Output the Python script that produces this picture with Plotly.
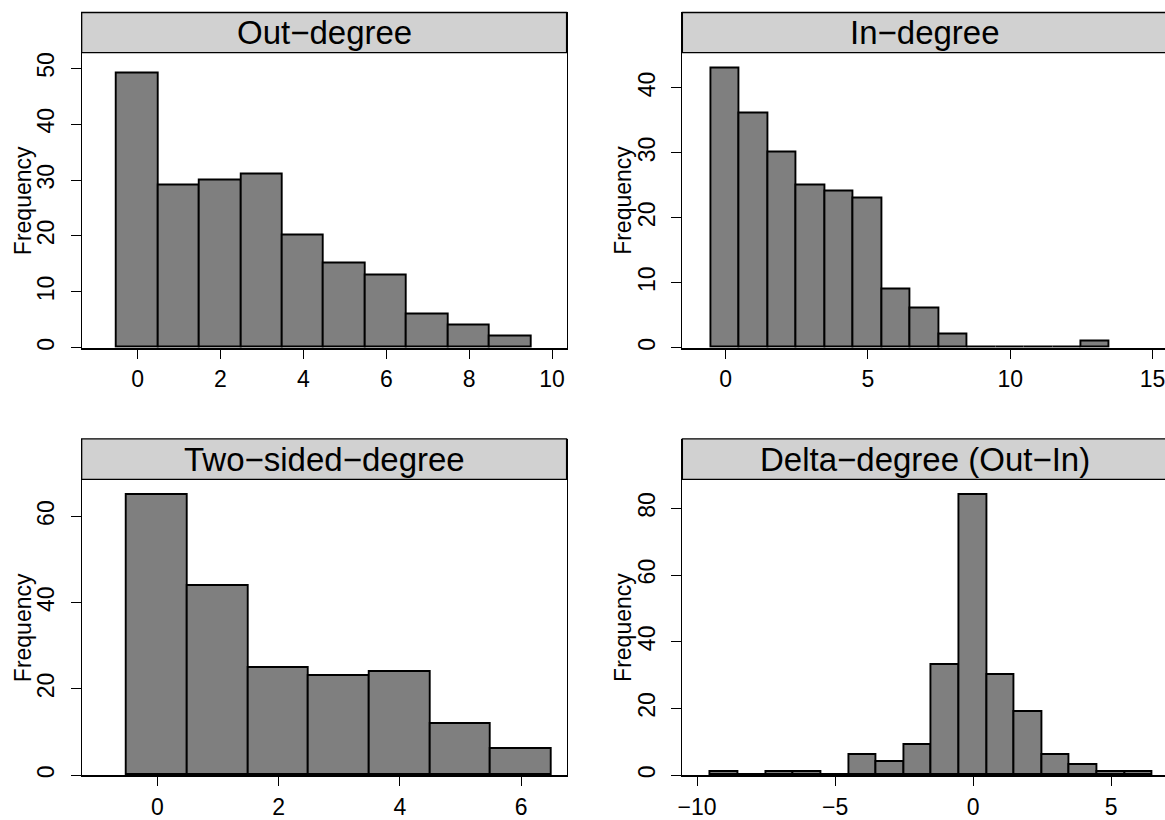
import plotly.graph_objects as go

# ---------------- data ----------------
out_deg = [0, 1, 2, 3, 4, 5, 6, 7, 8, 9]
out_freq = [49, 29, 30, 31, 20, 15, 13, 6, 4, 2]

in_deg = [0, 1, 2, 3, 4, 5, 6, 7, 8, 9, 10, 11, 12, 13]
in_freq = [43, 36, 30, 25, 24, 23, 9, 6, 2, 0, 0, 0, 0, 1]

two_deg = [0, 1, 2, 3, 4, 5, 6]
two_freq = [65, 44, 25, 23, 24, 12, 6]

delta_deg = [-9, -8, -7, -6, -5, -4, -3, -2, -1, 0, 1, 2, 3, 4, 5, 6]
delta_freq = [1, 0, 1, 1, 0, 6, 4, 9, 33, 84, 30, 19, 6, 3, 1, 1]

titles = ["Out\u2212degree", "In\u2212degree", "Two\u2212sided\u2212degree", "Delta\u2212degree (Out\u2212In)"]
x_ticks = [[0, 2, 4, 6, 8, 10], [0, 5, 10, 15], [0, 2, 4, 6], [-10, -5, 0, 5]]
y_ticks = [[0, 10, 20, 30, 40, 50], [0, 10, 20, 30, 40], [0, 20, 40, 60], [0, 20, 40, 60, 80]]
y_label = "Frequency"

# ---------------- geometry (pixels) ----------------
W, H = 1165, 820
FONT = "Liberation Sans, Arial, Helvetica, sans-serif"
TICK_SIZE = 23
TITLE_SIZE = 33
cols = [(77.0, 564.0), (680.3, 1167.3)]
rows = [(12.7, 353.3), (446.0, 787.7)]     # (strip top, axis y)
STRIP_FRAC = 0.12
xlims = [(-1.35, 10.35), (-1.52, 15.52), (-1.25, 6.75), (-10.53, 7.03)]
ytops = [60.0, 51.6, 78.0, 100.8]

panels = [(out_deg, out_freq), (in_deg, in_freq), (two_deg, two_freq), (delta_deg, delta_freq)]

fig = go.Figure()
layout = dict(
    width=W, height=H, margin=dict(l=0, r=0, t=0, b=0),
    paper_bgcolor="white", plot_bgcolor="white",
    bargap=0, showlegend=False,
    font=dict(family=FONT, color="black"),
)
shapes, annotations = [], []

for i, (xs, ys) in enumerate(panels):
    r, c = divmod(i, 2)
    px0, px1 = cols[c]
    top, axy = rows[r]
    n = "" if i == 0 else str(i + 1)
    xl, xr = xlims[i]
    scale = (px1 - px0) / (xr - xl)
    vis_px1 = min(px1, W)
    xr_vis = xl + (vis_px1 - px0) / scale

    fig.add_trace(go.Bar(
        x=xs, y=ys, width=1, xaxis="x" + n, yaxis="y" + n,
        marker=dict(color="#7f7f7f", line=dict(color="black", width=1.9)),
        hoverinfo="skip",
    ))

    layout["xaxis" + n] = dict(
        domain=[px0 / W, vis_px1 / W], range=[xl, xr_vis], anchor="y" + n,
        tickvals=x_ticks[i], ticks="outside", ticklen=9, tickwidth=1, tickcolor="black",
        showline=True, linewidth=2, linecolor="black", showgrid=False, zeroline=False,
        tickfont=dict(size=TICK_SIZE, family=FONT, color="black"), ticklabeloverflow="allow",
        ticklabelstandoff=1, fixedrange=True,
    )
    layout["yaxis" + n] = dict(
        domain=[1 - axy / H, 1 - top / H], range=[0, ytops[i]], anchor="x" + n,
        tickvals=y_ticks[i], tickangle=-90, ticks="outside", ticklen=10, tickwidth=1,
        tickcolor="black", showline=True, linewidth=1.3, linecolor="black",
        mirror=(c == 0), showgrid=False, zeroline=False,
        tickfont=dict(size=TICK_SIZE, family=FONT, color="black"),
        ticklabelstandoff=7, fixedrange=True,
    )

    strip_bottom = top + STRIP_FRAC * (axy - top)
    shapes.append(dict(
        type="rect", xref="paper", yref="paper",
        x0=px0 / W, x1=px1 / W, y0=1 - strip_bottom / H, y1=1 - top / H,
        fillcolor="#d1d1d1", line=dict(color="black", width=1.3), layer="above",
    ))
    annotations.append(dict(
        xref="paper", yref="paper", x=(px0 + px1) / 2 / W, y=1 - (top + strip_bottom) / 2 / H,
        text=titles[i], showarrow=False, xanchor="center", yanchor="middle",
        font=dict(size=TITLE_SIZE, family=FONT, color="black"),
    ))
    annotations.append(dict(
        xref="paper", yref="paper", x=(px0 - 59) / W, y=1 - (strip_bottom + axy) / 2 / H,
        text=y_label, showarrow=False, textangle=-90, xanchor="center", yanchor="middle",
        font=dict(size=TICK_SIZE, family=FONT, color="black"),
    ))

layout["shapes"] = shapes
layout["annotations"] = annotations
fig.update_layout(**layout)
fig.write_html("out.html")
